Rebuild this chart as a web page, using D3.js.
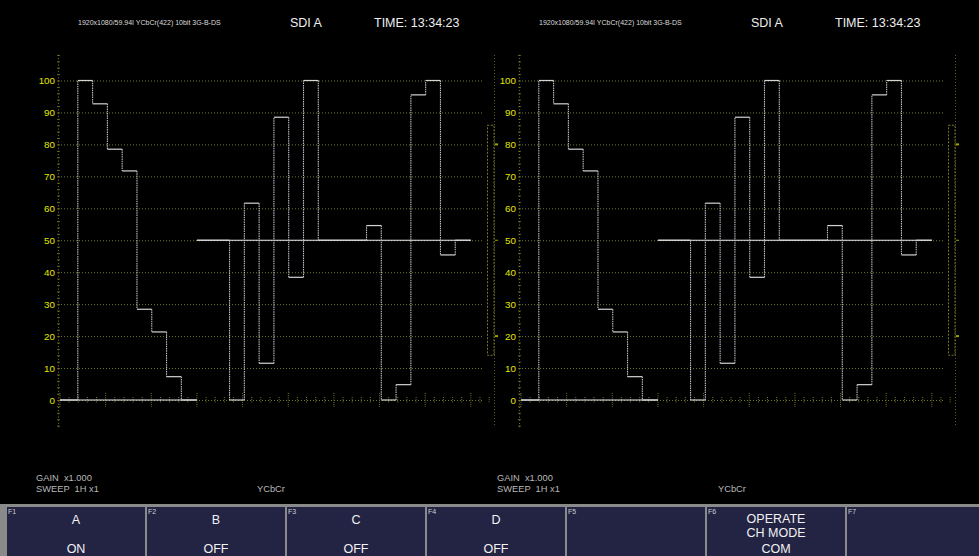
<!DOCTYPE html>
<html><head><meta charset="utf-8">
<script src="https://cdn.jsdelivr.net/npm/d3@7"></script>
<style>
html,body{margin:0;padding:0;background:#000;overflow:hidden;}
svg{display:block;font-family:"Liberation Sans",Arial,sans-serif;}
</style></head><body>
<svg id="c" width="979" height="556"></svg>
<script>
// ---- data ----
const yTicks = [0,10,20,30,40,50,60,70,80,90,100];
const barNames = ["White","Yellow","Cyan","Green","Magenta","Red","Blue"];
const yValues  = [100, 92.7, 78.5, 71.7, 28.4, 21.3, 7.3];
const cbValues = [50, 0, 61.6, 11.5, 88.5, 38.4, 100];
const crValues = [50, 54.6, 0, 4.8, 95.5, 100, 45.4];
const blankLevels = [0, 50, 50];
const channelNames = ["Y","Cb","Cr"];
const sweepUnits = 45;
const segmentUnits = 15;
const activeStart = 1.95;
const barUnits = 1.62;
const bracketRange = [14, 86];
const bracketMarks = [20, 50, 80];
const headerFormat = "1920x1080/59.94I YCbCr(422) 10bit 3G-B-DS";
const headerInput = "SDI A";
const headerTime = "TIME: 13:34:23";
const infoLines = ["GAIN  x1.000", "SWEEP  1H x1"];
const colorSystem = "YCbCr";
const fnKeys = ["F1","F2","F3","F4","F5","F6","F7"];
const fnLabels = [["A","ON"],["B","OFF"],["C","OFF"],["D","OFF"],[],["OPERATE","CH MODE","COM"],[]];
const panels = [0, 1];

// ---- drawing ----
const svg = d3.select("#c");
svg.append("rect").attr("width",979).attr("height",556).attr("fill","#000");

const y = d3.scaleLinear().domain([0,100]).range([400, 80.5]);
const x = d3.scaleLinear().domain([0, sweepUnits]).range([60, 470.85]);
const GRID = "#76762a";
const LABEL = "#e6e600";
const panelOffset = 461;

const channels = [yValues, cbValues, crValues];

function buildSegments(values, blank, start){
  const h = [];
  h.push({x0:start, x1:start+activeStart, v:blank});
  values.forEach((v,i)=>{
    h.push({x0:start+activeStart+i*barUnits, x1:start+activeStart+(i+1)*barUnits, v:v});
  });
  h.push({x0:start+activeStart+values.length*barUnits, x1:start+segmentUnits, v:blank});
  const vs = [];
  for(let i=1;i<h.length;i++){
    if(h[i].v!==h[i-1].v) vs.push({x:h[i].x0, a:h[i-1].v, b:h[i].v});
  }
  return {h, vs};
}

panels.forEach(p=>{
  const g = svg.append("g").attr("transform",`translate(${p*panelOffset},0)`);

  // header
  g.append("text").attr("x",78).attr("y",25).attr("font-size",7).attr("fill","#dcdcdc").text(headerFormat);
  g.append("text").attr("x",290).attr("y",27).attr("font-size",12.5).attr("fill","#eeeeee").text(headerInput);
  g.append("text").attr("x",374).attr("y",27).attr("font-size",12.5).attr("fill","#eeeeee").text(headerTime);

  // gridlines
  g.selectAll(".grid").data(yTicks).enter().append("line")
    .attr("x1",58).attr("x2",482).attr("y1",d=>y(d)+0.5).attr("y2",d=>y(d)+0.5)
    .attr("stroke",GRID).attr("stroke-width",1).attr("stroke-dasharray","1,2");

  // y axis (dotted vertical)
  g.append("line").attr("x1",58.5).attr("x2",58.5).attr("y1",y(108)).attr("y2",y(-8.5))
    .attr("stroke",GRID).attr("stroke-width",1).attr("stroke-dasharray","1,2.2");
  const minor = d3.range(-8, 109, 2);
  g.selectAll(".ymin").data(minor).enter().append("line")
    .attr("x1",57).attr("x2",60).attr("y1",d=>y(d)+0.5).attr("y2",d=>y(d)+0.5)
    .attr("stroke",GRID).attr("stroke-width",0.8);

  const yAxis = d3.axisLeft(y).tickValues(yTicks).tickSize(0).tickPadding(2);
  const ax = g.append("g").attr("transform","translate(57,0)").call(yAxis);
  ax.select(".domain").remove();
  ax.selectAll("text").attr("fill",LABEL).attr("font-size",9.8)
    .attr("font-family","'Liberation Sans',Arial,sans-serif");

  // x ticks along 0 line
  const xt = d3.range(0, sweepUnits+3, 1);
  g.selectAll(".xt").data(xt).enter().append("line")
    .attr("x1",d=>x(d)).attr("x2",d=>x(d))
    .attr("y1",d=> d%5===0 ? y(0)-7 : y(0)-3)
    .attr("y2",d=> d%5===0 ? y(0)+7 : y(0)+3)
    .attr("stroke",GRID).attr("stroke-width",1).attr("stroke-dasharray","1,1.2");

  // bracket at right
  g.append("rect").attr("x",487.5).attr("y",y(bracketRange[1])).attr("width",6.5)
    .attr("height",y(bracketRange[0])-y(bracketRange[1]))
    .attr("fill","none").attr("stroke",GRID).attr("stroke-width",1).attr("stroke-dasharray","2,1.5");
  g.append("line").attr("x1",494.5).attr("x2",494.5).attr("y1",y(108)).attr("y2",y(-8.5))
    .attr("stroke",GRID).attr("stroke-width",1).attr("stroke-dasharray","1,2").attr("opacity",0.8);
  g.selectAll(".bm").data(bracketMarks).enter().append("line")
    .attr("x1",495).attr("x2",498).attr("y1",d=>y(d)).attr("y2",d=>y(d))
    .attr("stroke",LABEL).attr("stroke-width",d=>d===50?1:2).attr("opacity",0.7);

  // waveform
  channels.forEach((vals,ci)=>{
    const start = ci*segmentUnits;
    const seg = buildSegments(vals, blankLevels[ci], start);
    // continuous blank-level trace across the segment
    g.append("line").attr("x1",x(start)).attr("x2",x(start+segmentUnits))
      .attr("y1",y(blankLevels[ci])).attr("y2",y(blankLevels[ci]))
      .attr("stroke","#ececf6").attr("stroke-width",1.1);
    g.selectAll(null).data(seg.vs).enter().append("line")
      .attr("x1",d=>x(d.x)).attr("x2",d=>x(d.x))
      .attr("y1",d=>y(d.a)).attr("y2",d=>y(d.b))
      .attr("stroke","#bcbcc8").attr("stroke-width",1.1).attr("stroke-dasharray","1.5,0.8");
    g.selectAll(null).data(seg.h).enter().append("line")
      .attr("x1",d=>x(d.x0)).attr("x2",d=>x(d.x1))
      .attr("y1",d=>y(d.v)).attr("y2",d=>y(d.v))
      .attr("stroke","#d4d4d8").attr("stroke-width",1.2);
  });

  // info text
  g.append("text").attr("x",36).attr("y",481).attr("font-size",9.3).attr("fill","#b8b8b8").attr("xml:space","preserve").text(infoLines[0]);
  g.append("text").attr("x",36).attr("y",492).attr("font-size",9.3).attr("fill","#b8b8b8").attr("xml:space","preserve").text(infoLines[1]);
  g.append("text").attr("x",257).attr("y",492).attr("font-size",9.3).attr("fill","#b8b8b8").text(colorSystem);
});

// function key bar
const bar = svg.append("g");
bar.append("rect").attr("x",0).attr("y",504).attr("width",979).attr("height",52).attr("fill","#8a8a8a");
const cellW = 140;
const cells = bar.selectAll(".cell").data(fnKeys).enter().append("g")
  .attr("transform",(d,i)=>`translate(${7+i*cellW},507)`);
cells.append("rect").attr("x",0).attr("y",0).attr("width",(d,i)=> i===6 ? 979-(7+i*cellW) : cellW-2)
  .attr("height",49).attr("fill","#232344");
cells.append("text").attr("x",1).attr("y",7).attr("font-size",7).attr("fill","#cfcfcf").text(d=>d);
cells.each(function(d,i){
  const lines = fnLabels[i];
  const cx = (cellW-2)/2;
  const c = d3.select(this);
  if(lines.length===2){
    c.append("text").attr("x",cx).attr("y",17).attr("text-anchor","middle").attr("font-size",12.5).attr("fill","#f2f2f2").text(lines[0]);
    c.append("text").attr("x",cx).attr("y",46).attr("text-anchor","middle").attr("font-size",12.5).attr("fill","#f2f2f2").text(lines[1]);
  } else if(lines.length===3){
    [16,30,46].forEach((yy,k)=>{
      c.append("text").attr("x",cx).attr("y",yy).attr("text-anchor","middle").attr("font-size",12.5).attr("fill","#f2f2f2").text(lines[k]);
    });
  }
});
</script>
</body></html>
